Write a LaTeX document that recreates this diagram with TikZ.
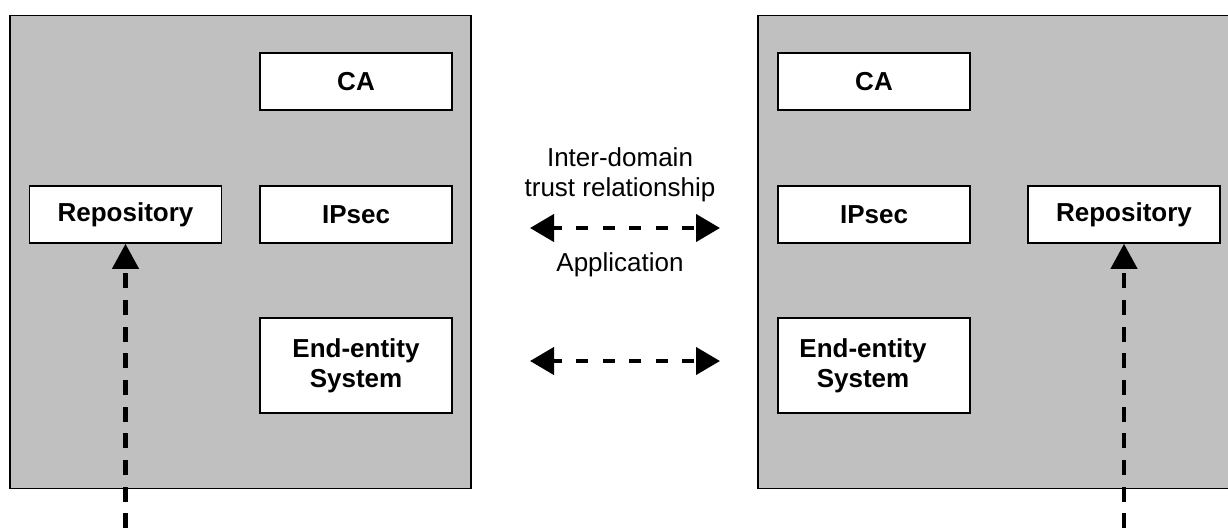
\documentclass[tikz,border=0pt]{standalone}
\usepackage{fontspec}
\setmainfont{Liberation Sans}
\usetikzlibrary{arrows.meta}
\definecolor{domaingray}{HTML}{C0C0C0}
\tikzset{
  domainbox/.style={draw=black, line width=1.8pt, fill=domaingray},
  box/.style={draw=black, line width=1.6pt, fill=white, minimum width=192pt, minimum height=57pt, inner sep=0pt, font=\fontsize{26}{30}\selectfont\bfseries, align=center},
  lbl/.style={font=\fontsize{26}{30}\selectfont, align=center, inner sep=0pt},
  hlink/.style={line width=4.2pt, dash pattern=on 12pt off 14.5pt, dash phase=3pt},
  vlink/.style={line width=4.2pt, dash pattern=on 15pt off 11.67pt},
  tip/.style={-{Triangle[length=25pt,width=26pt]}},
  tips/.style={{Triangle[length=24pt,width=27pt]}-{Triangle[length=24pt,width=27pt]}}
}
\begin{document}
\begin{tikzpicture}[x=1pt,y=-1pt]
\useasboundingbox (0,0) rectangle (1228,531);
\clip (0,0) rectangle (1228,531);
% domains
\draw[domainbox] (10,15.5) rectangle (471,488.5);
\draw[domainbox] (758,15.5) rectangle (1250,488.5);
% left domain
\node[box] (lca) at (356,81.5) {CA};
\node[box] (lip) at (356,214.5) {IPsec};
\node[box] (lrep) at (125.5,214.5) {Repository};
\node[box, minimum height=95pt] (lend) at (356,365.5) {End-entity\\System};
% right domain
\node[box] (rca) at (874,81.5) {CA};
\node[box] (rip) at (874,214.5) {IPsec};
\node[box] (rrep) at (1124,214.5) {Repository};
\node[box, minimum height=95pt, label={[lbl, font=\fontsize{26}{30}\selectfont\bfseries, xshift=-11pt]center:End-entity\\System}] (rend) at (874,365.5) {};
% middle labels
\node[lbl] (trust) at (620,175) {Inter-domain\\trust relationship};
\node[lbl] (app) at (620,265) {Application};
% horizontal arrows
\coordinate (a1l) at (530,228);
\coordinate (a1r) at (720,228);
\coordinate (a2l) at (530,361);
\coordinate (a2r) at (720,361);
\draw[hlink, tips] (a1l) -- (a1r);
\draw[hlink, tips] (a2l) -- (a2r);
% vertical arrows
\coordinate (lin) at (125.5,555);
\coordinate (rin) at (1124,555);
\draw[vlink, tip] (lin) -- (lrep.south);
\draw[vlink, tip] (rin) -- (rrep.south);
\end{tikzpicture}
\end{document}
